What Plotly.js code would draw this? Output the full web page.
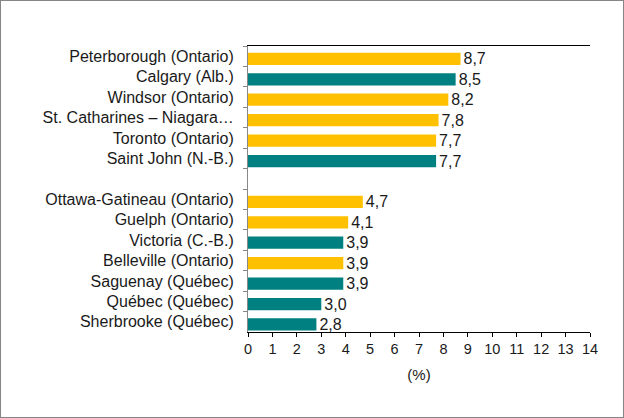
<!DOCTYPE html>
<html>
<head>
<meta charset="utf-8">
<script src="https://cdn.plot.ly/plotly-3.0.1.min.js"></script>
<style>
html,body{margin:0;padding:0;background:#fff;}
#chart{width:622px;height:416px;border:1px solid #868686;}
</style>
</head>
<body>
<div id="chart"></div>
<script>
const categories = [
  "Peterborough (Ontario)",
  "Calgary (Alb.)",
  "Windsor (Ontario)",
  "St. Catharines – Niagara…",
  "Toronto (Ontario)",
  "Saint John (N.-B.)",
  " ",
  "Ottawa-Gatineau (Ontario)",
  "Guelph (Ontario)",
  "Victoria (C.-B.)",
  "Belleville (Ontario)",
  "Saguenay (Québec)",
  "Québec (Québec)",
  "Sherbrooke (Québec)"
];
const values = [8.7, 8.5, 8.2, 7.8, 7.7, 7.7, null, 4.7, 4.1, 3.9, 3.9, 3.9, 3.0, 2.8];
const groups = ["Ontario", "Autre", "Ontario", "Ontario", "Ontario", "Autre", null,
                "Ontario", "Ontario", "Autre", "Ontario", "Autre", "Autre", "Autre"];
const xTicks = [0,1,2,3,4,5,6,7,8,9,10,11,12,13,14];

const colorMap = {"Ontario": "#FFC000", "Autre": "#008080"};
const colors = groups.map(g => g ? colorMap[g] : "rgba(0,0,0,0)");

const trace = {
  type: "bar",
  orientation: "h",
  y: categories,
  x: values,
  marker: {color: colors},
  width: 0.6,
  offset: -0.17,
  text: values.map(v => v === null ? "" : v.toFixed(1).replace(".", ",")),
  textposition: "outside",
  constraintext: "none",
  cliponaxis: false,
  textfont: {family: "Liberation Sans, Arial, sans-serif", size: 16, color: "#1a1a1a"},
  hoverinfo: "none"
};

const layout = {
  width: 622,
  height: 416,
  margin: {l: 247, r: 33, t: 45, b: 85},
  paper_bgcolor: "#fff",
  plot_bgcolor: "#fff",
  showlegend: false,
  separators: ", ",
  font: {family: "Liberation Sans, Arial, sans-serif", size: 16, color: "#1a1a1a"},
  xaxis: {
    range: [0, 14],
    tickvals: xTicks,
    ticktext: xTicks.map(String),
    showgrid: false,
    zeroline: false,
    showline: true,
    linecolor: "#000",
    linewidth: 1,
    mirror: true,
    ticks: "outside",
    ticklen: 4,
    tickcolor: "#000",
    tickfont: {size: 14.5, color: "#1a1a1a"},
    title: {text: "(%)", font: {size: 15, color: "#1a1a1a"}, standoff: 13},
    fixedrange: true
  },
  yaxis: {
    type: "category",
    categoryorder: "array",
    categoryarray: categories,
    autorange: "reversed",
    tickson: "boundaries",
    showgrid: false,
    zeroline: false,
    showline: true,
    linecolor: "#888",
    linewidth: 1,
    ticks: "outside",
    ticklen: 4,
    tickcolor: "#888",
    ticklabelstandoff: 10,
    tickfont: {size: 16, color: "#1a1a1a"},
    fixedrange: true
  }
};

Plotly.newPlot("chart", [trace], layout, {displayModeBar: false, staticPlot: true});
</script>
</body>
</html>
